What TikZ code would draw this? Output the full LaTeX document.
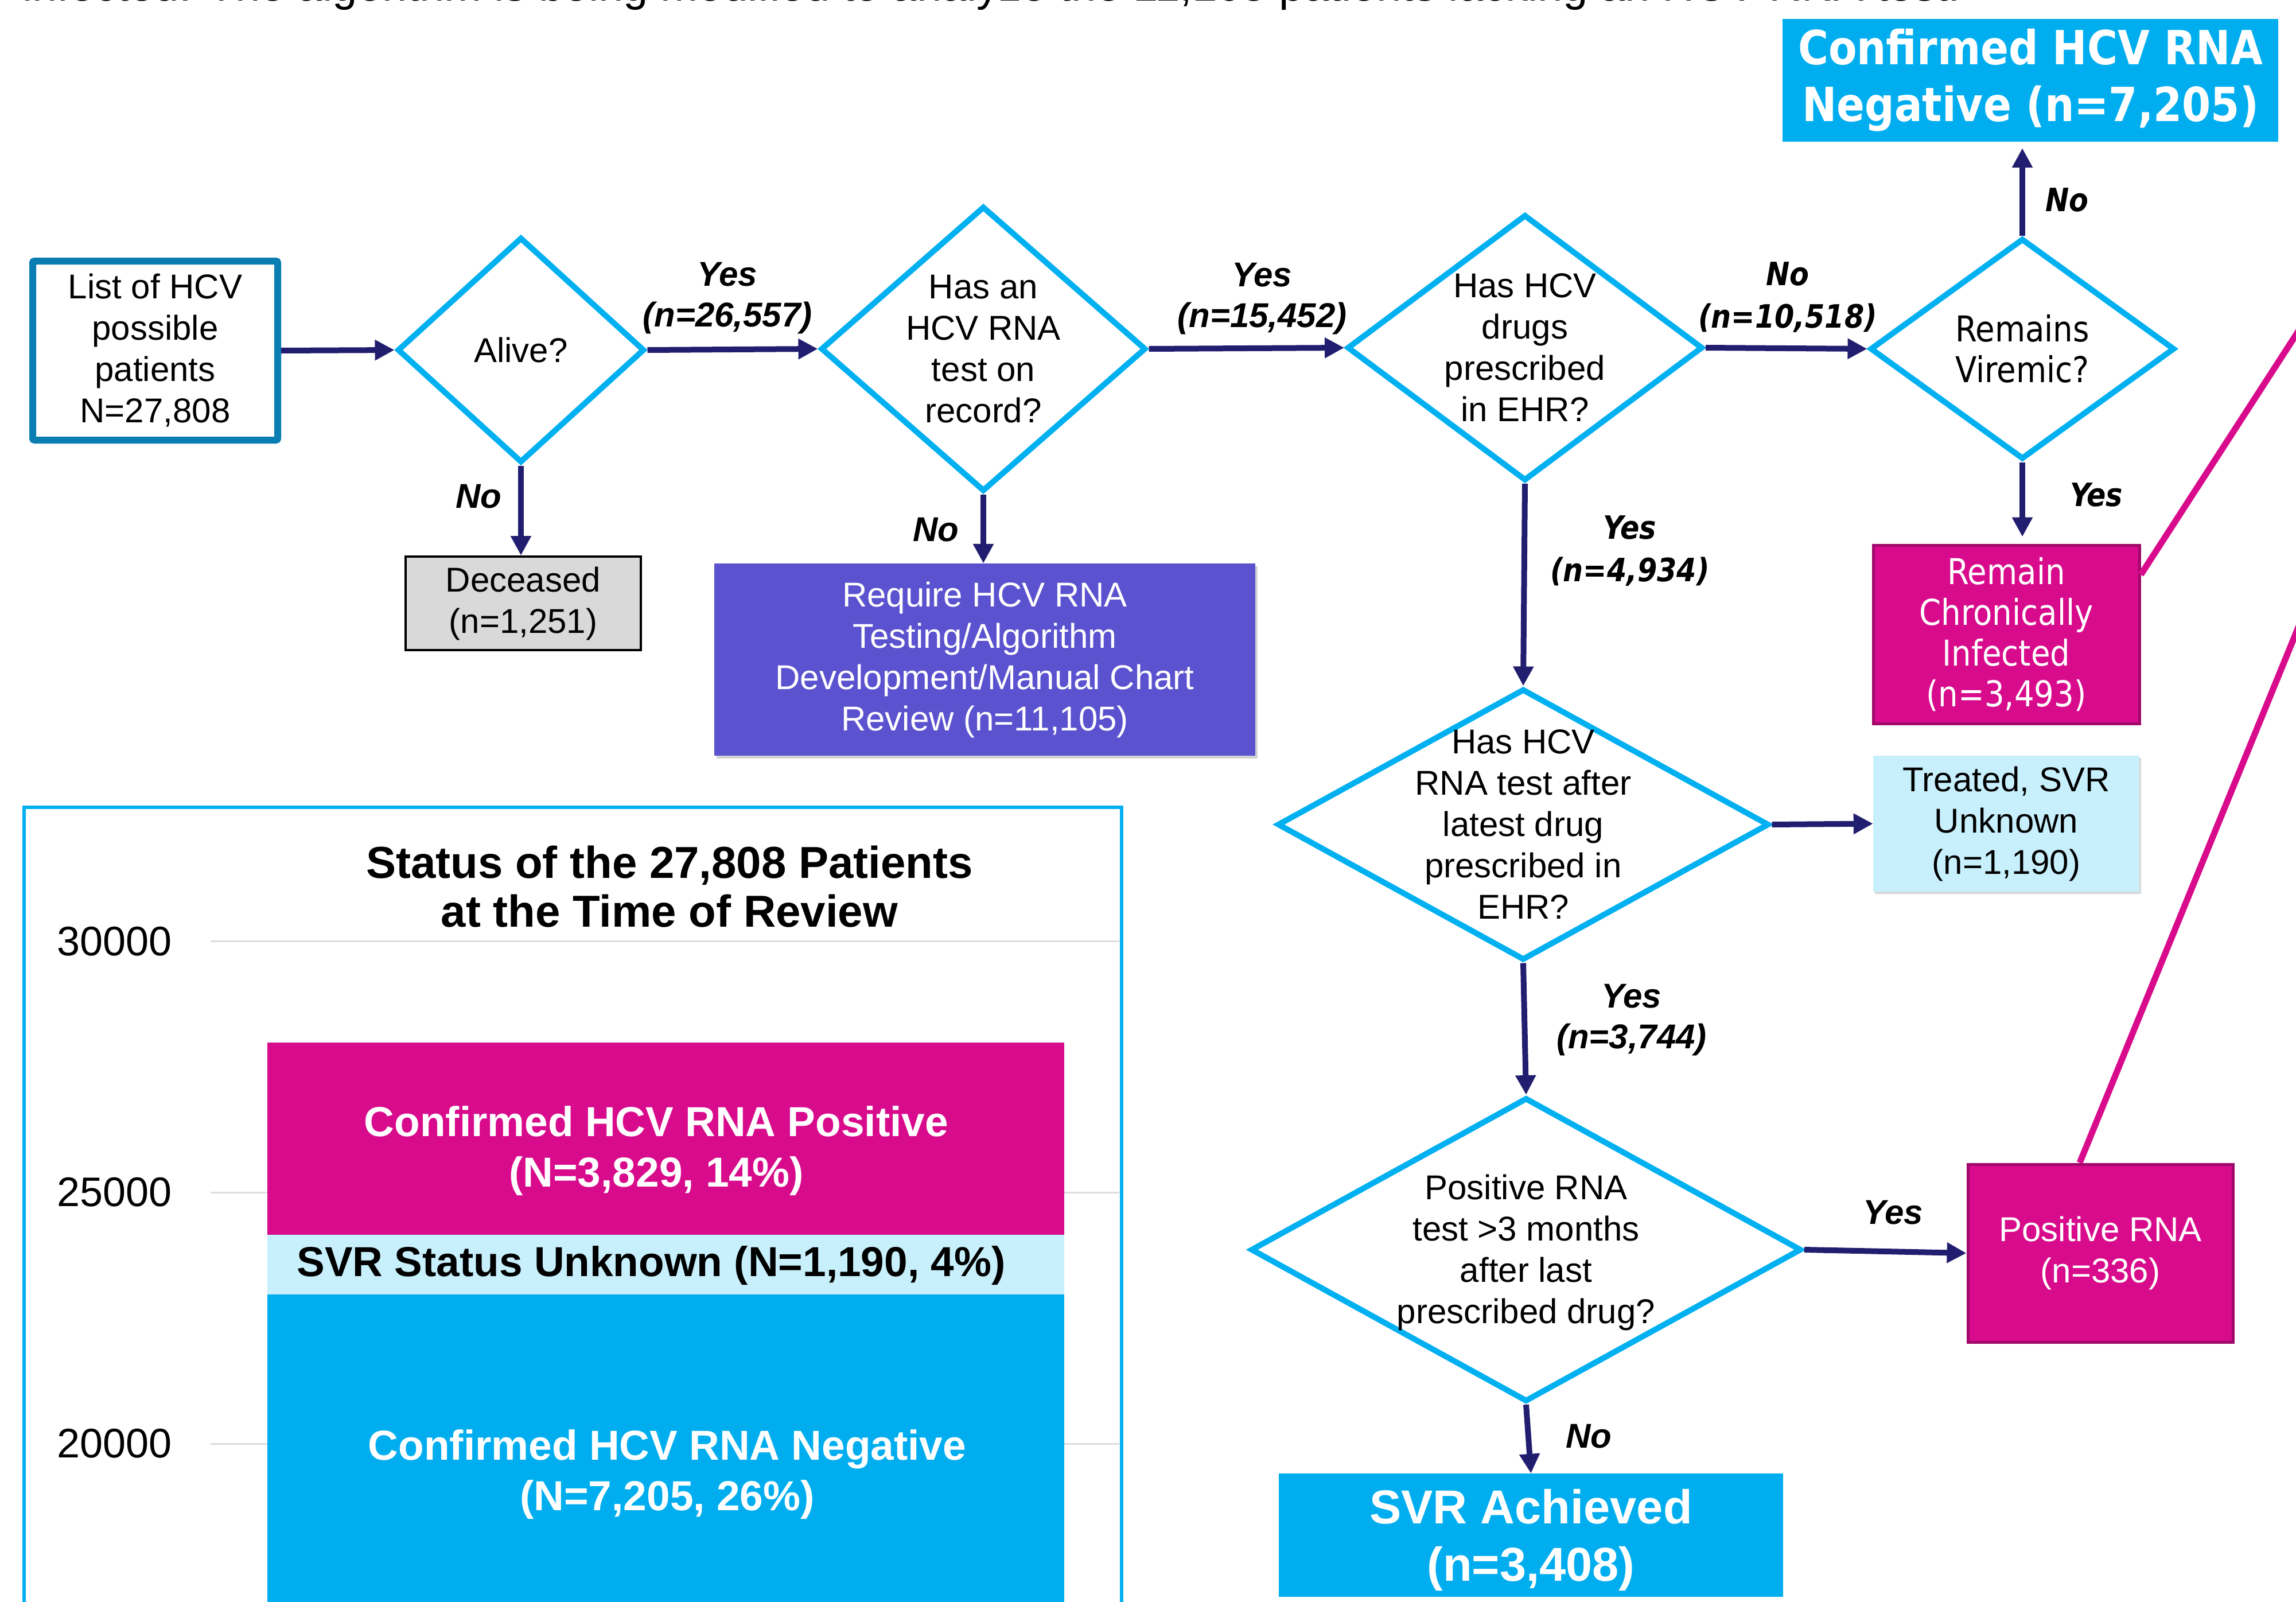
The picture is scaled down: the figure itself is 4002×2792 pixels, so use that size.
\documentclass[tikz,border=0pt]{standalone}
\usepackage{fontspec}
\setmainfont{Liberation Sans}
\newfontfamily\vfont[FakeStretch=0.88,BoldFont={DejaVu Sans Bold},ItalicFont={DejaVu Sans Oblique},BoldItalicFont={DejaVu Sans Bold Oblique}]{DejaVu Sans}
\usetikzlibrary{shapes.geometric,arrows.meta,shadows}
\definecolor{navy}{HTML}{221E6F}
\definecolor{diacol}{HTML}{00B0F0}
\definecolor{listcol}{HTML}{0A7DB2}
\definecolor{purplebox}{HTML}{5A52CF}
\definecolor{magbox}{HTML}{D80B8C}
\definecolor{magborder}{HTML}{A0086A}
\definecolor{bluebox}{HTML}{00AEEF}
\definecolor{lightcyan}{HTML}{C8F0FC}
\definecolor{graybox}{HTML}{D9D9D9}
\definecolor{gridcol}{HTML}{DDDDDD}
\begin{document}
\begin{tikzpicture}[x=1pt,y=-1pt,
  dia/.style={shape=diamond,draw=diacol,line width=10pt,inner sep=0pt,fill=white},
  flowbox/.style={shape=rectangle,inner sep=0pt,align=center},
  arrowline/.style={draw=navy,line width=10pt,-{Triangle[length=34pt,width=34pt]}},
  magline/.style={draw=magbox,line width=11pt},
  atext/.style={font=\fontsize{60}{72}\selectfont,align=center},
  vtext/.style={font=\vfont\fontsize{62}{71}\selectfont,align=center},
  albl/.style={font=\fontsize{60}{71}\selectfont\bfseries\itshape,align=center},
  vlbl/.style={font=\vfont\fontsize{56}{74}\selectfont\bfseries\itshape,align=center},
  barlbl/.style={font=\fontsize{73}{88}\selectfont\bfseries,align=center},
  axlbl/.style={font=\fontsize{72}{80}\selectfont,anchor=east}
]
\useasboundingbox (0,0) rectangle (4002,2792);
\fill[white] (0,0) rectangle (4002,2792);

% partially visible header text
\node[anchor=base west,inner sep=0pt,font=\fontsize{78}{90}\selectfont] (header) at (39,1) {infected.  The algorithm is being modified to analyze the 11,105 patients lacking an HCV RNA test.};

% ---------- chart ----------
\draw[draw=diacol,line width=6pt] (42,1407) rectangle (1955,2900);
\draw[gridcol,line width=3pt] (367,1640) -- (1951,1640);
\draw[gridcol,line width=3pt] (367,2078) -- (1951,2078);
\draw[gridcol,line width=3pt] (367,2516) -- (1951,2516);
\fill[magbox] (466,1817) rectangle (1855,2152);
\fill[lightcyan] (466,2152) rectangle (1855,2256);
\fill[bluebox] (466,2256) rectangle (1855,2900);
\node[axlbl] (ax30) at (303,1641) {30000};
\node[axlbl] (ax25) at (303,2078) {25000};
\node[axlbl] (ax20) at (303,2516) {20000};
\node[font=\fontsize{78}{85}\selectfont\bfseries,align=center] (ctitle) at (1167,1545) {Status of the 27,808 Patients\\at the Time of Review};
\node[barlbl,text=white] (bpos) at (1144,2006) {Confirmed HCV RNA Positive\\(N=3,829, 14\%)};
\node[barlbl,text=black] (bunk) at (1135,2206) {SVR Status Unknown (N=1,190, 4\%)};
\node[barlbl,text=white] (bneg) at (1163,2570) {Confirmed HCV RNA Negative\\(N=7,205, 26\%)};

% ---------- flowchart nodes ----------
\node[flowbox,draw=listcol,line width=12pt,fill=white,rounded corners=3pt,minimum width=427pt,minimum height=312pt,atext] (list) at (270.5,611) {List of HCV\\possible\\patients\\N=27,808};

\node[dia,minimum width=431pt,minimum height=393pt,label={[atext]center:Alive?}] (alive) at (908,610) {};
\node[dia,minimum width=567pt,minimum height=497pt,label={[atext]center:Has an\\HCV RNA\\test on\\record?}] (hcv) at (1714,608) {};
\node[dia,minimum width=620pt,minimum height=464pt,label={[atext]center:Has HCV\\drugs\\prescribed\\in EHR?}] (drugs) at (2658,606) {};
\node[dia,minimum width=531pt,minimum height=385pt,label={[vtext]center:Remains\\Viremic?}] (viremic) at (3525,608) {};
\node[dia,minimum width=857pt,minimum height=473pt,label={[atext]center:Has HCV\\RNA test after\\latest drug\\prescribed in\\EHR?}] (after) at (2655,1437) {};
\node[dia,minimum width=960pt,minimum height=530pt,label={[atext,yshift=-5pt]center:Positive RNA\\test >3 months\\after last\\prescribed drug?}] (positive) at (2660,2178) {};

\node[flowbox,draw=black,line width=4pt,fill=graybox,minimum width=410pt,minimum height=163pt,atext] (deceased) at (912,1051.5) {Deceased\\(n=1,251)};
\node[flowbox,fill=purplebox,minimum width=943pt,minimum height=335pt,atext,text=white,drop shadow={shadow xshift=4pt,shadow yshift=-5pt,opacity=0.35}] (require) at (1716.5,1149.5) {Require HCV RNA\\Testing/Algorithm\\Development/Manual Chart\\Review (n=11,105)};
\node[flowbox,fill=bluebox,minimum width=864pt,minimum height=214pt,text=white,font=\vfont\fontsize{82}{99}\selectfont\bfseries] (negbox) at (3539,140) {Confirmed HCV RNA\\Negative (n=7,205)};
\node[flowbox,draw=magborder,line width=5pt,fill=magbox,minimum width=464pt,minimum height=311pt,vtext,text=white] (chronic) at (3497,1105.5) {Remain\\Chronically\\Infected\\(n=3,493)};
\node[flowbox,fill=lightcyan,minimum width=464pt,minimum height=237pt,atext,drop shadow={shadow xshift=3pt,shadow yshift=-4pt,opacity=0.3}] (treated) at (3497,1435.5) {Treated, SVR\\Unknown\\(n=1,190)};
\node[flowbox,draw=magborder,line width=5pt,fill=magbox,minimum width=462pt,minimum height=310pt,atext,text=white] (posrna) at (3661,2184) {Positive RNA\\(n=336)};
\node[flowbox,fill=bluebox,minimum width=879pt,minimum height=215pt,text=white,font=\fontsize{83}{100}\selectfont\bfseries,text depth=0pt] (svr) at (2668.5,2675.5) {SVR Achieved\\(n=3,408)};

% ---------- connectors ----------
\draw[arrowline] (list.east) -- (alive.west);
\draw[arrowline] (alive.east) -- (hcv.west);
\draw[arrowline] (alive.south) -- (alive.south |- deceased.north);
\draw[arrowline] (hcv.south) -- (hcv.south |- require.north);
\draw[arrowline] (hcv.east) -- (drugs.west);
\draw[arrowline] (drugs.east) -- (viremic.west);
\draw[arrowline,shorten >=11pt] (viremic.north) -- (viremic.north |- negbox.south);
\draw[arrowline,shorten >=12pt] (viremic.south) -- (viremic.south |- chronic.north);
\draw[arrowline] (drugs.south) -- (after.north);
\draw[arrowline] (after.east) -- (treated.west);
\draw[arrowline] (after.south) -- (positive.north);
\draw[arrowline] (positive.east) -- (posrna.west);
\draw[arrowline] (positive.south) -- (svr.north);

\coordinate (offA) at (4100,432);
\coordinate (offB) at (4100,863);
\draw[magline] ([yshift=-54pt]chronic.north east) -- (offA);
\draw[magline] ([xshift=-36pt]posrna.north) -- (offB);

% ---------- connector labels ----------
\node[albl] (l1) at (1268,520) {Yes\\(n=26,557)};
\node[albl] (l2) at (2200,521) {Yes\\(n=15,452)};
\node[vlbl] (l3) at (3116,518) {No\\(n=10,518)};
\node[albl] (l4) at (834,865) {No};
\node[albl] (l5) at (1631,923) {No};
\node[vlbl] (l6) at (2841,960) {Yes\\(n=4,934)};
\node[vlbl] (l7) at (3603,348) {No};
\node[vlbl] (l8) at (3654,862) {Yes};
\node[albl] (l9) at (2844,1778) {Yes\\(n=3,744)};
\node[albl] (l10) at (3300,2113) {Yes};
\node[albl] (l11) at (2769,2503) {No};
\end{tikzpicture}
\end{document}
